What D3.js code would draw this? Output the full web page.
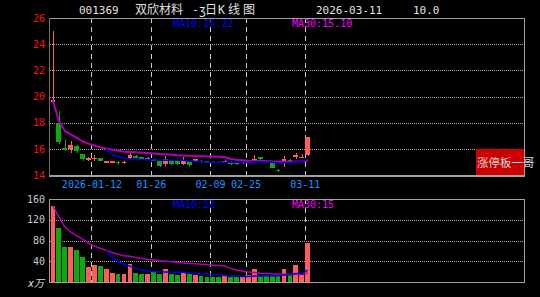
<!DOCTYPE html>
<html lang="zh">
<head>
<meta charset="utf-8">
<title>001369 双欣材料 日K线图</title>
<script src="https://d3js.org/d3.v7.min.js"></script>
<style>
  body { margin: 0; background: #000; }
  svg { display: block; }
</style>
</head>
<body>
<div id="chart"></div>
<script>
// ---- data ----
const dates = ["2025-12-30","2025-12-31","2026-01-05","2026-01-06","2026-01-07","2026-01-08","2026-01-09",
  "2026-01-12","2026-01-13","2026-01-14","2026-01-15","2026-01-16","2026-01-19","2026-01-20","2026-01-21",
  "2026-01-22","2026-01-23","2026-01-26","2026-01-27","2026-01-28","2026-01-29","2026-01-30","2026-02-02",
  "2026-02-03","2026-02-04","2026-02-05","2026-02-06","2026-02-09","2026-02-10","2026-02-11","2026-02-12",
  "2026-02-13","2026-02-24","2026-02-25","2026-02-26","2026-02-27","2026-03-02","2026-03-03","2026-03-04",
  "2026-03-05","2026-03-06","2026-03-09","2026-03-10","2026-03-11"];
const opens = [19.6,17.95,16.05,16.0,16.25,15.58,15.22,15.28,15.27,15.0,15.02,15.0,14.9,15.3,15.45,15.35,15.25,
  15.25,15.1,14.85,15.1,15.05,14.85,15.05,15.1,15.1,15.05,15.0,15.0,15.0,15.0,14.95,14.9,15.0,15.15,15.35,15.1,
  15.0,14.4,14.9,15.15,15.35,15.35,15.5];
const highs = [25.0,18.9,16.7,16.6,16.3,15.6,15.4,15.5,15.3,15.1,15.1,15.05,15.05,15.7,15.5,15.4,15.35,15.3,
  15.15,15.45,15.15,15.1,15.35,15.1,15.25,15.15,15.1,15.05,15.05,15.15,15.05,15.0,15.05,15.1,15.5,15.4,15.15,
  15.05,14.45,15.45,15.2,15.65,15.6,16.94];
const lows = [19.5,16.4,15.85,15.7,15.7,15.1,15.1,15.1,15.05,14.98,14.95,14.8,14.85,15.2,15.3,15.25,15.2,15.05,
  14.6,14.7,14.8,14.8,14.75,14.6,15.05,14.95,14.9,14.9,14.9,14.95,14.8,14.8,14.85,14.95,15.05,15.15,14.9,14.5,
  14.25,14.6,15.0,15.25,15.3,15.45];
const closes = [19.7,16.55,15.9,16.3,15.8,15.22,15.28,15.32,15.07,15.05,15.05,14.9,15.0,15.55,15.35,15.28,15.3,
  15.1,14.7,15.2,14.85,14.85,15.15,14.8,15.2,15.0,14.95,14.95,14.92,15.1,14.85,14.85,15.0,15.05,15.25,15.2,15.0,
  14.55,14.3,15.25,15.0,15.5,15.4,16.94];
const volumes = [147,105,67,67,61,48,28,32,30,24.5,17,15.5,15.5,35,17,15.5,15.5,19,16,25,15.5,13,17,15,14,11,10,
  10,10,11,9,9,9,14,25,11,11,11,11,25,13,33,14,75];

const tickDates = ["2026-01-12","2026-01-26","2026-02-09","2026-02-25","2026-03-11"];
const tickLabels = ["2026-01-12","01-26","02-09","02-25","03-11"];
const priceTicks = [14,16,18,20,22,24,26];
const volTicks = [40,80,120,160];

const stockCode = "001369";
const titleParts = ["双欣材料", "-", "ʒ", "日", "K", "线", "图"];
const lastDate = "2026-03-11";
const changePct = "10.0";
const priceMaLabels = ["MA10:15.22","MA30:15.10"];
const volMaLabels = ["MA10:23","MA30:15"];
const tagText = "涨停板一哥";

// ---- layout ----
const W = 540, H = 297;
const left = 50, right = 524;
const slots = 80;
const mainTop = 18, mainBottom = 175;
const volTop = 199, volBottom = 282;
const RED = "#ff5c5c", GREEN = "#10a810", BLUE = "#0000e0", MAG = "#b000b0";

const svg = d3.select("#chart").append("svg").attr("width", W).attr("height", H)
  .style("background", "#000");

const x = d3.scaleLinear().domain([0, slots]).range([left, right]);
const y = d3.scaleLinear().domain([14, 26]).range([mainBottom, mainTop]);
const yv = d3.scaleLinear().domain([0, 160]).range([volBottom, volTop]);
const barW = 4.8;
const cx = i => x(i) + 0.5 + barW / 2;

const up = closes.map((c, i) => c >= opens[i]);

// moving averages (MA30 uses what is available during the first days)
function ma(arr, n, partial) {
  return arr.map((d, i) => {
    if (!partial && i < n - 1) return null;
    return d3.mean(arr.slice(Math.max(0, i - n + 1), i + 1));
  });
}

// ---- grid ----
function hGrid(scale, vals) {
  svg.append("g").selectAll("line").data(vals).join("line")
    .attr("x1", left).attr("x2", right)
    .attr("y1", d => Math.round(scale(d)) + 0.5).attr("y2", d => Math.round(scale(d)) + 0.5)
    .attr("stroke", "#a8a8a8").attr("stroke-dasharray", "1,1");
}
hGrid(y, [16, 18, 20, 22, 24]);
hGrid(yv, [40, 80, 120]);

const tickIdx = tickDates.map(d => dates.indexOf(d));
[[mainTop, mainBottom], [volTop, volBottom]].forEach(([t, b]) => {
  svg.append("g").selectAll("line").data(tickIdx).join("line")
    .attr("x1", d => Math.round(x(d)) + 0.5).attr("x2", d => Math.round(x(d)) + 0.5)
    .attr("y1", t).attr("y2", b)
    .attr("stroke", "#c8c8c8").attr("stroke-dasharray", "5,4");
});

// ---- candles ----
const candles = svg.append("g").attr("shape-rendering", "crispEdges");
candles.selectAll("line").data(dates).join("line")
  .attr("x1", (d, i) => Math.round(cx(i)) + 0.5).attr("x2", (d, i) => Math.round(cx(i)) + 0.5)
  .attr("y1", (d, i) => y(highs[i])).attr("y2", (d, i) => y(lows[i]))
  .attr("stroke", (d, i) => up[i] ? RED : GREEN);
candles.selectAll("rect").data(dates).join("rect")
  .attr("x", (d, i) => x(i) + 0.5).attr("width", barW)
  .attr("y", (d, i) => y(Math.max(opens[i], closes[i])))
  .attr("height", (d, i) => Math.max(1.5, Math.abs(y(opens[i]) - y(closes[i]))))
  .attr("fill", (d, i) => up[i] ? RED : GREEN);

// ---- volume bars ----
svg.append("g").attr("shape-rendering", "crispEdges")
  .selectAll("rect").data(volumes).join("rect")
  .attr("x", (d, i) => x(i) + 0.5).attr("width", barW)
  .attr("y", d => yv(d)).attr("height", d => volBottom - yv(d))
  .attr("fill", (d, i) => up[i] ? RED : GREEN);

// ---- MA lines ----
function maLine(vals, scale, color, width) {
  const line = d3.line().defined(d => d != null).x((d, i) => cx(i)).y(d => scale(d));
  svg.append("path").datum(vals).attr("d", line)
    .attr("fill", "none").attr("stroke", color).attr("stroke-width", width);
}
maLine(ma(closes, 30, true), y, MAG, 2);
maLine(ma(closes, 10, false), y, BLUE, 1.5);
maLine(ma(volumes, 30, true), yv, MAG, 1.5);
maLine(ma(volumes, 10, false), yv, BLUE, 1.5);

// ---- frames ----
const frame = svg.append("g").attr("fill", "none").attr("shape-rendering", "crispEdges");
frame.append("rect").attr("x", left - 0.5).attr("y", mainTop + 0.5)
  .attr("width", right - left + 1).attr("height", mainBottom - mainTop).attr("stroke", "#a0a0a0");
frame.append("rect").attr("x", left - 0.5).attr("y", volTop + 0.5)
  .attr("width", right - left + 1).attr("height", volBottom - volTop).attr("stroke", "#a0a0a0");
frame.append("line").attr("x1", left - 1).attr("x2", left - 1).attr("y1", mainTop).attr("y2", mainBottom + 1)
  .attr("stroke", "#707070");
frame.append("line").attr("x1", left - 1).attr("x2", right + 1).attr("y1", mainBottom + 1.5).attr("y2", mainBottom + 1.5)
  .attr("stroke", "#a0a0a0");

// ---- axes ----
const yAxis = svg.append("g").attr("transform", `translate(${left - 1},0)`)
  .call(d3.axisLeft(y).tickValues(priceTicks).tickSize(0).tickPadding(4).tickFormat(d3.format("d")));
yAxis.select(".domain").remove();
yAxis.selectAll("text").attr("fill", "#ff1010").style("font", "10px 'DejaVu Sans Mono'");

const vAxis = svg.append("g").attr("transform", `translate(${left - 1},0)`)
  .call(d3.axisLeft(yv).tickValues(volTicks).tickSize(0).tickPadding(4).tickFormat(d3.format("d")));
vAxis.select(".domain").remove();
vAxis.selectAll("text").attr("fill", "#c8c8c8").style("font", "10px 'DejaVu Sans Mono'");
svg.append("text").attr("x", 44).attr("y", 287).attr("text-anchor", "end")
  .attr("fill", "#e0e0e0").style("font", "italic 10px 'DejaVu Sans', 'Noto Sans CJK SC'").text("x万");

const xAxis = svg.append("g").attr("transform", `translate(0,${mainBottom + 3})`)
  .call(d3.axisBottom(x).tickValues(tickIdx).tickSize(0).tickPadding(3).tickFormat((d, i) => tickLabels[i]));
xAxis.select(".domain").remove();
xAxis.selectAll("text").attr("fill", "#1e90ff").style("font", "10px 'DejaVu Sans Mono'");

// ---- titles and labels ----
const mono = "'DejaVu Sans Mono', 'Noto Sans CJK SC'";
svg.append("text").attr("x", 79).attr("y", 14).attr("fill", "#e0e0e0")
  .style("font", `11px ${mono}`).text(stockCode);
const titleX = [135, 192, 199, 205, 218, 228, 243];
titleParts.forEach((t, i) => {
  const latin = /[A-Za-z\-ʒ]/.test(t);
  svg.append("text").attr("x", titleX[i]).attr("y", 14).attr("fill", "#e0e0e0")
    .style("font", latin ? `11.5px ${mono}` : "12px 'Noto Sans CJK SC'").text(t);
});
svg.append("text").attr("x", 316).attr("y", 14).attr("fill", "#e0e0e0")
  .style("font", `11px ${mono}`).text(lastDate);
svg.append("text").attr("x", 413).attr("y", 14).attr("fill", "#e0e0e0")
  .style("font", `11px ${mono}`).text(changePct);

[[priceMaLabels, 27], [volMaLabels, 208]].forEach(([labels, yy]) => {
  svg.append("text").attr("x", 173).attr("y", yy).attr("fill", "#0000ff")
    .style("font", `10px ${mono}`).text(labels[0]);
  svg.append("text").attr("x", 292).attr("y", yy).attr("fill", "#ff00ff")
    .style("font", `10px ${mono}`).text(labels[1]);
});

svg.append("rect").attr("x", 476).attr("y", 149).attr("width", 48).attr("height", 26).attr("fill", "#cc0000");
svg.append("text").attr("x", 477).attr("y", 167).attr("fill", "#d8d8d8")
  .style("font", "11.5px 'Noto Sans CJK SC'").text(tagText);
</script>
</body>
</html>
